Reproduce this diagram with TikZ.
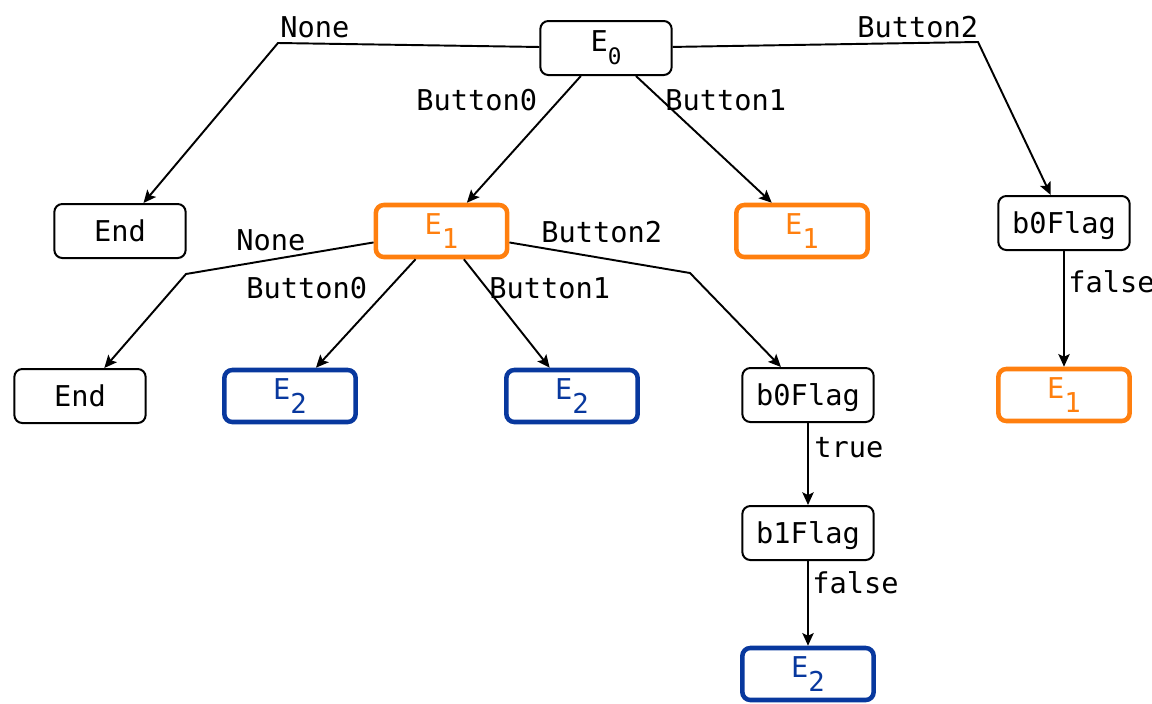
\documentclass[tikz,border=0pt]{standalone}
\usepackage{fontspec}
\setmonofont{DejaVu Sans Mono}
\usetikzlibrary{arrows.meta}
\definecolor{eorange}{RGB}{255,127,14}
\definecolor{eblue}{RGB}{8,56,158}
% state name with a lowered index: #1 index, #2 index size, #3 drop
\newcommand{\Estate}[3]{E\raisebox{-#3}{\fontsize{#2}{#2}\selectfont #1}}

\begin{document}
\begin{tikzpicture}[x=0.75pt,y=-0.75pt,
  every node/.style={font=\ttfamily\fontsize{21.5}{26}\selectfont},
  boxbase/.style={draw=black, line width=1.5pt, rounded corners=6pt,
    minimum width=98.5pt, minimum height=40.5pt, inner sep=0pt},
  plain/.style={boxbase, text depth=0pt},
  ostate/.style={boxbase, draw=eorange, text=eorange, line width=3.4pt,
    minimum height=39pt},
  bstate/.style={ostate, draw=eblue, text=eblue},
  conn/.style={line width=1.45pt, -{Stealth[length=9.5pt,width=8.5pt,inset=2pt]}},
  lbl/.style={anchor=base west, inner sep=0pt}
]
\useasboundingbox (0,0) rectangle (1152,703);

% nodes
\node[boxbase] (e0) at (606,48) {\Estate{0}{17pt}{9.5pt}};
\node[plain] (end1) at (120,231) {End};
\node[ostate] (e1a) at (441.5,231) {\Estate{1}{20.5pt}{11pt}};
\node[ostate] (e1b) at (802,231) {\Estate{1}{20.5pt}{11pt}};
\node[plain] (flagR) at (1064,223) {b0Flag};
\node[ostate] (e1c) at (1064,395) {\Estate{1}{20.5pt}{11pt}};
\node[plain] (end2) at (80,396) {End};
\node[bstate] (e2a) at (290,396) {\Estate{2}{20.5pt}{11pt}};
\node[bstate] (e2b) at (572,396) {\Estate{2}{20.5pt}{11pt}};
\node[plain] (flagM) at (808,395) {b0Flag};
\node[plain] (flagN) at (808,533) {b1Flag};
\node[bstate] (e2c) at (808,674) {\Estate{2}{20.5pt}{11pt}};

% bends of the side branches
\coordinate (k1) at (278,43);
\coordinate (k2) at (978,42);
\coordinate (k3) at (186,274);
\coordinate (k4) at (690,273);

% connectors
\draw[conn] (e0) -- (k1) -- (end1);
\draw[conn] (e0) -- (e1a);
\draw[conn] (e0) -- (e1b);
\draw[conn] (e0) -- (k2) -- (flagR);
\draw[conn] (flagR) -- (e1c);
\draw[conn] (e1a) -- (k3) -- (end2);
\draw[conn] (e1a) -- (e2a);
\draw[conn] (e1a) -- (e2b);
\draw[conn] (e1a) -- (k4) -- (flagM);
\draw[conn] (flagM) -- (flagN);
\draw[conn] (flagN) -- (e2c);

% connector labels
\node[lbl] (l1) at (280,37) {None};
\node[lbl] (l2) at (857,37) {Button2};
\node[lbl] (l3) at (416,110) {Button0};
\node[lbl] (l4) at (665,110) {Button1};
\node[lbl] (l5) at (236,250) {None};
\node[lbl] (l6) at (541,242) {Button2};
\node[lbl] (l7) at (246,298) {Button0};
\node[lbl] (l8) at (489,298) {Button1};
\node[lbl] (l9) at (1068,292) {false};
\node[lbl] (l10) at (814,457) {true};
\node[lbl] (l11) at (812,593) {false};
\end{tikzpicture}
\end{document}
